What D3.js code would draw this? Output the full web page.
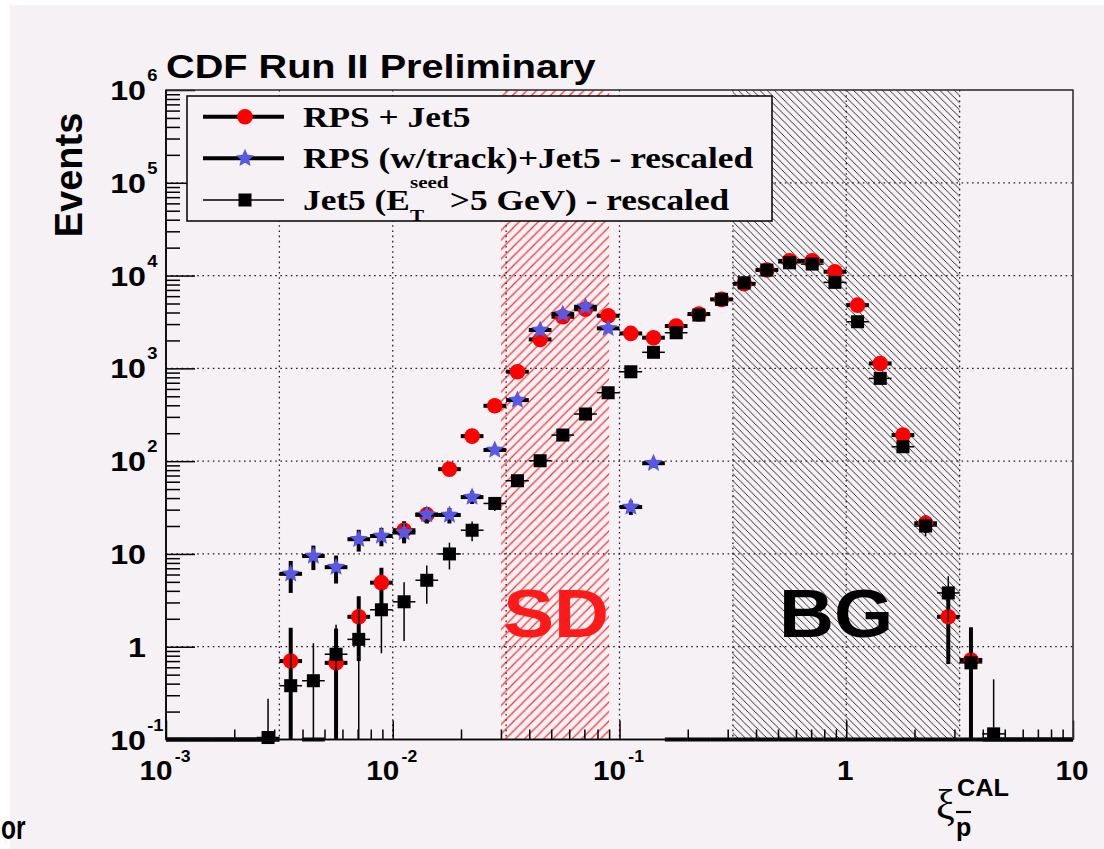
<!DOCTYPE html>
<html>
<head>
<meta charset="utf-8">
<script src="https://d3js.org/d3.v7.min.js"></script>
<style>
  html, body { margin: 0; padding: 0; background: #fff; }
  svg { display: block; }
</style>
</head>
<body>
<svg id="chart" width="1104" height="849"></svg>
<script>
// bin centres, log10(xi), 0.1 wide bins from 10^-3 to 10
const binLog = [-2.95, -2.85, -2.75, -2.65, -2.55, -2.45, -2.35, -2.25, -2.15, -2.05,
                -1.95, -1.85, -1.75, -1.65, -1.55, -1.45, -1.35, -1.25, -1.15, -1.05,
                -0.95, -0.85, -0.75, -0.65, -0.55, -0.45, -0.35, -0.25, -0.15, -0.05,
                 0.05,  0.15,  0.25,  0.35,  0.45,  0.55,  0.65,  0.75,  0.85,  0.95];

// RPS + Jet5
const rps = [0, 0, 0, 0, 0, 0.7, 0, 0.67, 2.1, 4.9,
             18, 26.5, 82, 186, 395, 920, 2050, 3600, 4330, 3690,
             2380, 2140, 2860, 3850, 5540, 8150, 11500, 14400, 14400, 11000,
             4800, 1130, 191, 21.4, 2.1, 0.72, 0, 0, 0, 0];
const rpsErr = [0, 0, 0, 0, 0, 0.9, 0, 0.9, 1.4, 2.2,
                4.5, 5.2, 9, 14, 20, 30, 45, 60, 66, 61,
                49, 46, 53, 62, 74, 90, 107, 120, 120, 105,
                69, 34, 14, 4.6, 1.45, 0.9, 0, 0, 0, 0];

// RPS (w/track)+Jet5 - rescaled
const rpsTrack = [0, 0, 0, 0, 0, 6.1, 9.5, 7.2, 14.4, 15.6,
                  17, 26.5, 26.3, 41, 132, 455, 2590, 3850, 4610, 2700,
                  32, 95, 0, 0, 0, 0, 0, 0, 0, 0,
                  0, 0, 0, 0, 0, 0, 0, 0, 0, 0];
const rpsTrackErr = [0, 0, 0, 0, 0, 2.3, 2.8, 2.4, 3.8, 3.5,
                     4, 5, 5, 6.5, 12, 22, 50, 62, 68, 52,
                     5.7, 10, 0, 0, 0, 0, 0, 0, 0, 0,
                     0, 0, 0, 0, 0, 0, 0, 0, 0, 0];

// Jet5 (E_T^seed > 5 GeV) - rescaled
const jet5 = [0, 0, 0, 0, 0.105, 0.38, 0.43, 0.83, 1.2, 2.5,
              3.05, 5.2, 10, 18, 35, 61.5, 101, 191, 322, 546,
              919, 1490, 2420, 3750, 5540, 8360, 11460, 13740, 13300, 8450,
              3180, 780, 143, 20, 3.8, 0.67, 0.115, 0, 0, 0];
const jet5Err = [0, 0, 0, 0, 0.17, 0.6, 0.66, 0.9, 1.3, 1.65,
                 1.9, 2.3, 3.2, 4.3, 6, 8, 10, 14, 18, 23,
                 30, 39, 49, 61, 74, 91, 107, 117, 115, 92,
                 56, 28, 12, 4.5, 1.95, 0.8, 0.33, 0, 0, 0];

const xDecades = [-3, -2, -1, 0, 1];
const yDecades = [-1, 0, 1, 2, 3, 4, 5, 6];
const xGridLog = [-2.5, -2, -1.5, -1, -0.5, 0, 0.5];

const bandLabels = ["SD", "BG"];
const bandLo = [0.03, 0.316];
const bandHi = [0.09, 3.16];

const W = 1104, H = 849;
const sans = "'Liberation Sans', Arial, Helvetica, sans-serif";
const serif = "'Liberation Serif', 'Times New Roman', serif";
const bg = "#f5f1f5";

const svg = d3.select("#chart");
svg.append("rect").attr("x", 10).attr("y", 5).attr("width", W - 10).attr("height", H - 5).attr("fill", bg);

const x = d3.scaleLog().domain([1e-3, 10]).range([166, 1073]);
const y = d3.scaleLog().domain([0.1, 1e6]).range([739.5, 90]);
const [xl, xr] = x.range();
const [yb, yt] = y.range();

// hatch patterns
const defs = svg.append("defs");
const pr = 9.5;
defs.append("pattern").attr("id", "hatchRed").attr("patternUnits", "userSpaceOnUse")
  .attr("width", pr).attr("height", pr)
  .append("path")
  .attr("d", `M0,${pr} L${pr},0 M-1,1 L1,-1 M${pr - 1},${pr + 1} L${pr + 1},${pr - 1}`)
  .attr("stroke", "#ff3030").attr("stroke-width", 1.2);
const pb = 7.2;
defs.append("pattern").attr("id", "hatchBlack").attr("patternUnits", "userSpaceOnUse")
  .attr("width", pb).attr("height", pb)
  .append("path")
  .attr("d", `M0,0 L${pb},${pb} M${pb - 1},-1 L${pb + 1},1 M-1,${pb - 1} L1,${pb + 1}`)
  .attr("stroke", "#1a1a1a").attr("stroke-width", 0.9);

const bandFill = ["url(#hatchRed)", "url(#hatchBlack)"];
svg.append("g").selectAll("rect").data(bandLabels).join("rect")
  .attr("x", (d, i) => x(bandLo[i]))
  .attr("y", yt)
  .attr("width", (d, i) => x(bandHi[i]) - x(bandLo[i]))
  .attr("height", yb - yt)
  .attr("fill", (d, i) => bandFill[i]);

// grid
const grid = svg.append("g").attr("stroke", "#222").attr("stroke-width", 1.3).attr("stroke-dasharray", "1.6,3.6");
grid.selectAll("line.gx").data(xGridLog).join("line").attr("class", "gx")
  .attr("x1", d => x(Math.pow(10, d))).attr("x2", d => x(Math.pow(10, d)))
  .attr("y1", yt).attr("y2", yb);
grid.selectAll("line.gy").data(yDecades.filter(d => d > -1 && d < 6)).join("line").attr("class", "gy")
  .attr("x1", xl).attr("x2", xr)
  .attr("y1", d => y(Math.pow(10, d))).attr("y2", d => y(Math.pow(10, d)));

// band labels
const bandText = ["#ff1a1a", "#000"];
const bandShift = [1, -10];
bandLabels.forEach((lab, i) => {
  const cx = (x(bandLo[i]) + x(bandHi[i])) / 2 + bandShift[i];
  svg.append("g").attr("transform", `translate(${cx},637) scale(1.12,1)`)
    .append("text").attr("text-anchor", "middle")
    .attr("font-family", sans).attr("font-weight", "bold").attr("font-size", 68)
    .attr("fill", bandText[i]).text(lab);
});

// series
const starPath = d3.lineRadial().curve(d3.curveLinearClosed)(
  d3.range(10).map(i => [i * Math.PI / 5, i % 2 ? 4.4 : 9.5]));

function drawMarker(sel, kind) {
  if (kind === "circle") {
    sel.append("circle").attr("r", 7.8).attr("fill", "#ff0000");
  } else if (kind === "star") {
    sel.append("path").attr("d", starPath).attr("fill", "#5858e2");
  } else {
    sel.append("rect").attr("x", -6.5).attr("y", -6.5).attr("width", 13).attr("height", 13).attr("fill", "#000");
  }
}

function drawSeries(vals, errs, lw, kind) {
  const bins = binLog.map((c, i) => ({
    lo: x(Math.pow(10, c - 0.05)), hi: x(Math.pow(10, c + 0.05)), xc: x(Math.pow(10, c)),
    v: vals[i], e: errs[i]
  }));
  const g = svg.append("g").attr("stroke", "#000").attr("stroke-width", lw);
  g.selectAll("line.h").data(bins).join("line").attr("class", "h")
    .attr("x1", d => d.lo).attr("x2", d => d.hi)
    .attr("y1", d => d.v > 0 ? y(d.v) : yb).attr("y2", d => d.v > 0 ? y(d.v) : yb);
  const nz = bins.filter(d => d.v > 0);
  g.selectAll("line.v").data(nz).join("line").attr("class", "v")
    .attr("x1", d => d.xc).attr("x2", d => d.xc)
    .attr("y1", d => y(Math.max(d.v - d.e, 0.1)))
    .attr("y2", d => y(Math.min(d.v + d.e, 1e6)));
  const m = svg.append("g").selectAll("g").data(nz).join("g")
    .attr("transform", d => `translate(${d.xc},${y(d.v)})`);
  drawMarker(m, kind);
}

drawSeries(rps, rpsErr, 4, "circle");
drawSeries(rpsTrack, rpsTrackErr, 4, "star");
drawSeries(jet5, jet5Err, 1.5, "square");

// axes ticks
const xt = x.ticks();
const yt2 = y.ticks();
const isMajor = v => Math.abs(Math.log10(v) - Math.round(Math.log10(v))) < 1e-6;

function styleAxis(g) {
  g.select(".domain").remove();
  g.selectAll(".tick line").attr("stroke", "#000").attr("stroke-width", 1.5);
}
svg.append("g").attr("transform", `translate(0,${yb})`)
  .call(d3.axisBottom(x).tickValues(xt.filter(v => !isMajor(v))).tickSize(-10).tickFormat(""))
  .call(styleAxis);
svg.append("g").attr("transform", `translate(0,${yb})`)
  .call(d3.axisBottom(x).tickValues(xt.filter(isMajor)).tickSize(-19).tickFormat(""))
  .call(styleAxis);
svg.append("g").attr("transform", `translate(${xl},0)`)
  .call(d3.axisLeft(y).tickValues(yt2.filter(v => !isMajor(v))).tickSize(-14).tickFormat(""))
  .call(styleAxis);
svg.append("g").attr("transform", `translate(${xl},0)`)
  .call(d3.axisLeft(y).tickValues(yt2.filter(isMajor)).tickSize(-29).tickFormat(""))
  .call(styleAxis);

// frame
svg.append("rect").attr("x", xl).attr("y", yt).attr("width", xr - xl).attr("height", yb - yt)
  .attr("fill", "none").attr("stroke", "#333").attr("stroke-width", 1.6);
svg.append("line").attr("x1", xl).attr("x2", xr).attr("y1", yb).attr("y2", yb)
  .attr("stroke", "#000").attr("stroke-width", 1.6);
svg.append("line").attr("x1", xl).attr("x2", xl).attr("y1", yt).attr("y2", yb)
  .attr("stroke", "#000").attr("stroke-width", 1.6);

// legend
const legendLabels = ["RPS + Jet5", "RPS (w/track)+Jet5 - rescaled", null];
const legendKinds = ["circle", "star", "square"];
const legendLw = [4, 4, 1.5];
svg.append("rect").attr("x", 187).attr("y", 96).attr("width", 585).attr("height", 125)
  .attr("fill", bg).attr("stroke", "#000").attr("stroke-width", 1.5);
const rowY = d3.scaleLinear().domain([0, 2]).range([116.7, 200]);
legendKinds.forEach((k, i) => {
  const ry = rowY(i);
  svg.append("line").attr("x1", 203).attr("x2", 284).attr("y1", ry).attr("y2", ry)
    .attr("stroke", "#000").attr("stroke-width", legendLw[i]);
  drawMarker(svg.append("g").attr("transform", `translate(245,${ry})`), k);
  const tg = svg.append("g").attr("transform", `translate(303,${ry + 10}) scale(1.24,1)`)
    .attr("font-family", serif).attr("font-weight", "bold").attr("fill", "#000");
  if (legendLabels[i]) {
    tg.append("text").attr("font-size", 28.5).text(legendLabels[i]);
  } else {
    const t1 = tg.append("text").attr("font-size", 28.5).text("Jet5 (E");
    const w1 = t1.node().getComputedTextLength();
    const sub = tg.append("text").attr("font-size", 17).attr("x", w1).attr("y", 10.5).text("T");
    const sup = tg.append("text").attr("font-size", 17).attr("x", w1).attr("y", -22).text("seed");
    const w2 = Math.max(sub.node().getComputedTextLength(), sup.node().getComputedTextLength());
    tg.append("text").attr("font-size", 28.5).attr("x", w1 + w2 + 1).text(">5 GeV) - rescaled");
  }
});

// tick labels
yDecades.forEach(d => {
  const g = svg.append("g").attr("transform", `translate(146,${y(Math.pow(10, d)) + 10}) scale(1.15,1)`)
    .attr("font-family", sans).attr("font-weight", "bold").attr("fill", "#000");
  g.append("text").attr("text-anchor", "end").attr("font-size", 28).text(d === 0 ? "1" : "10");
  if (d !== 0 && d !== 1) g.append("text").attr("x", 1).attr("y", -19).attr("font-size", 16).text(d);
});
xDecades.forEach(d => {
  const g = svg.append("g").attr("transform", `translate(${x(Math.pow(10, d)) - 1},780) scale(1.1,1)`)
    .attr("font-family", sans).attr("font-weight", "bold").attr("fill", "#000");
  const t = g.append("text").attr("font-size", 27).text(d === 0 ? "1" : "10");
  const w1 = t.node().getComputedTextLength();
  let e = null, w2 = 0;
  if (d !== 0 && d !== 1) {
    e = g.append("text").attr("font-size", 16).attr("y", -18).text(d);
    w2 = e.node().getComputedTextLength() + 2;
  }
  const start = -(w1 + w2) / 2;
  t.attr("x", start);
  if (e) e.attr("x", start + w1 + 2);
});

// title and axis titles
svg.append("g").attr("transform", "translate(166,78) scale(1.22,1)")
  .append("text").attr("font-family", sans).attr("font-weight", "bold").attr("font-size", 32.5)
  .text("CDF Run II Preliminary");

svg.append("text").attr("transform", "translate(82,175) rotate(-90)")
  .attr("text-anchor", "middle").attr("font-family", sans).attr("font-weight", "bold")
  .attr("font-size", 38).text("Events");

svg.append("text").attr("x", 936).attr("y", 819).attr("font-family", serif).attr("font-size", 42).text("ξ");
svg.append("g").attr("transform", "translate(957,796) scale(1.1,1)")
  .append("text").attr("font-family", sans).attr("font-weight", "bold").attr("font-size", 23).text("CAL");
svg.append("text").attr("x", 956).attr("y", 836).attr("font-family", sans).attr("font-weight", "bold")
  .attr("font-size", 25).text("p");
svg.append("line").attr("x1", 956).attr("x2", 971).attr("y1", 812).attr("y2", 812)
  .attr("stroke", "#000").attr("stroke-width", 2.2);

svg.append("g").attr("transform", "translate(1,839) scale(0.72,1)")
  .append("text").attr("font-family", sans).attr("font-weight", "bold").attr("font-size", 34).text("or");
</script>
</body>
</html>
